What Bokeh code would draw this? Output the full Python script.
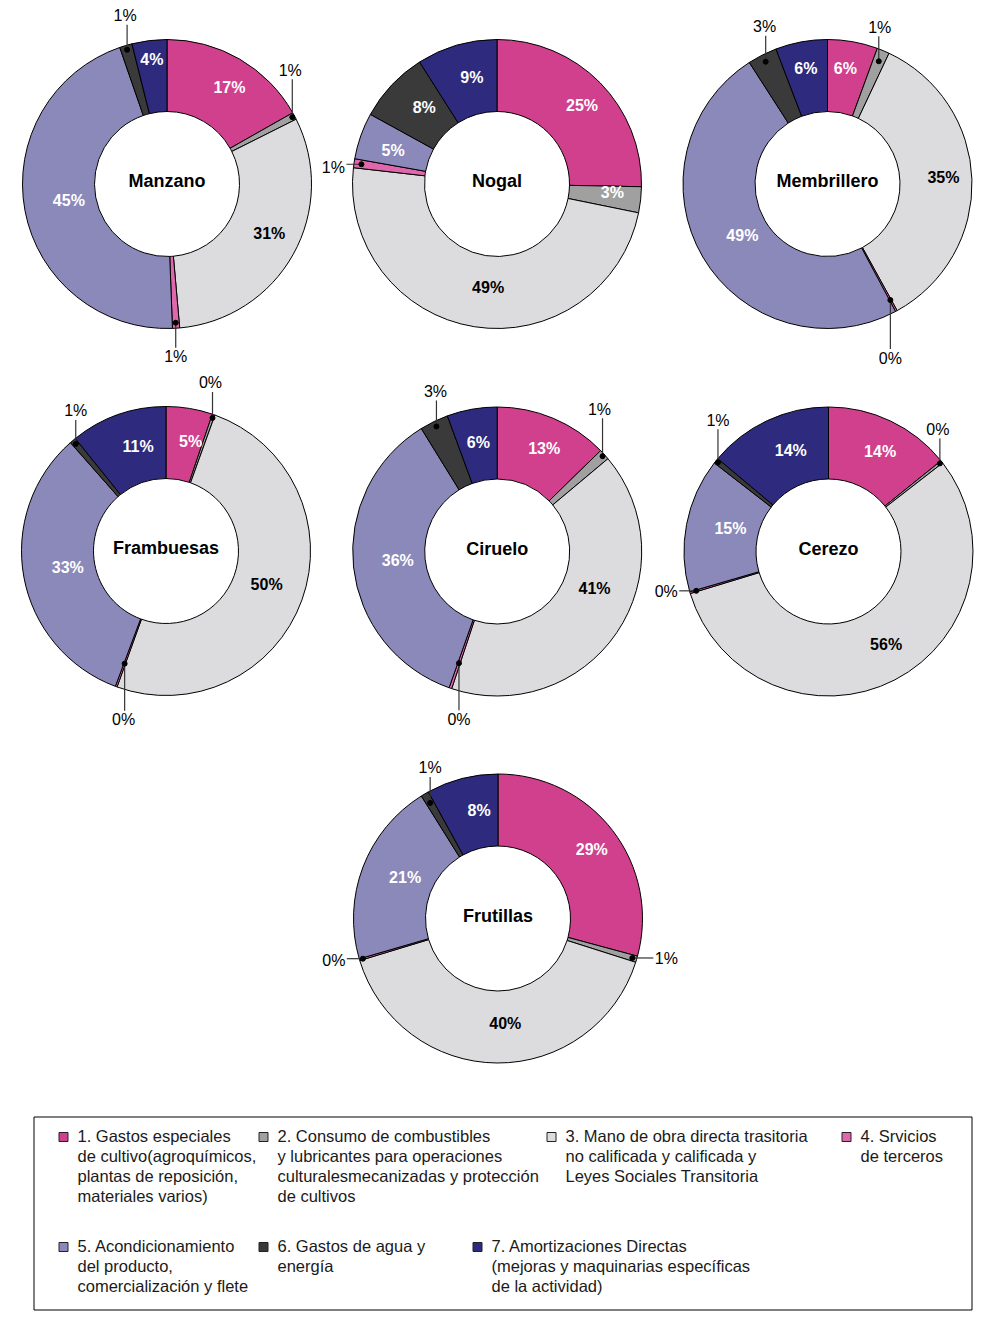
import math
from bokeh.plotting import figure
from bokeh.models import Range1d, ColumnDataSource
from bokeh.embed import file_html
from bokeh.resources import INLINE
from bokeh.core.properties import value

# ---------------- data ----------------
crops = ["Manzano", "Nogal", "Membrillero", "Frambuesas", "Ciruelo", "Cerezo", "Frutillas"]

# shares (%) of the 7 cost items, in legend order (clockwise from 12 o'clock)
manzano = [16.8, 0.8, 31.0, 0.8, 45.3, 1.4, 3.9]
nogal = [25.3, 2.9, 48.6, 1.0, 5.2, 8.0, 9.0]
membrillero = [5.6, 1.4, 35.0, 0.2, 48.7, 3.3, 5.8]
frambuesas = [5.2, 0.3, 50.0, 0.2, 32.8, 0.7, 10.8]
ciruelo = [12.7, 1.2, 41.2, 0.3, 35.8, 3.2, 5.6]
cerezo = [14.2, 0.3, 55.8, 0.2, 15.0, 0.6, 13.9]
frutillas = [29.2, 0.7, 40.4, 0.2, 20.6, 0.9, 8.0]

series = [manzano, nogal, membrillero, frambuesas, ciruelo, cerezo, frutillas]

legend_lines = [
    ["1. Gastos especiales", "de cultivo(agroquímicos,", "plantas de reposición,", "materiales varios)"],
    ["2. Consumo de combustibles", "y lubricantes para operaciones", "culturalesmecanizadas y protección", "de cultivos"],
    ["3. Mano de obra directa trasitoria", "no calificada y calificada y", "Leyes Sociales Transitoria"],
    ["4. Srvicios", "de terceros"],
    ["5. Acondicionamiento", "del producto,", "comercialización y flete"],
    ["6. Gastos de agua y", "energía"],
    ["7. Amortizaciones Directas", "(mejoras y maquinarias específicas", "de la actividad)"],
]

# ---------------- style / layout ----------------
colors = ["#D1408D", "#A0A0A0", "#DCDCDF", "#DF68AC", "#8B89BA", "#3A3A3A", "#2E2A7D"]
label_colors = ["white", "white", "black", "white", "white", "white", "white"]

H = 1341  # page height, image coords -> data coords via H - y
W_FIG, H_FIG = 986, 1320

centers = [(166.5, 183.5), (496.5, 183.5), (827, 183.5),
           (165.5, 550.5), (496.7, 551), (828, 551),
           (497.5, 918)]
R_OUT = 144.5
R_IN = 72.5
R_LAB = 108
R_DOT = 140
LAB_SHIFT = (8, -3)  # general placement shift of inside labels (pixels, y down)

# per-label nudges of inside labels (pixels, y down)
nudges = [
    {6: (-10, -14)},
    {4: (-10, 5), 5: (-2, 0), 6: (-3, 0)},
    {0: (-9, -6), 6: (-10, -6)},
    {2: (-9, 0), 0: (-1, 0)},
    {0: (-3, 0), 2: (0, -21), 6: (-8, 0)},
    {0: (-3, 0)},
    {},
]

# outside labels: index -> (dx, dy, dot radius) ; offset of label from dot in pixels (dy downward)
outside = [
    {1: (-2, -47, 142), 3: (0, 34, 139), 5: (-2, -34, 140)},
    {3: (-28, 3, 137)},
    {1: (1, -34, 133), 3: (0, 58, 132), 5: (-1, -35, 137)},
    {1: (-2, -35, 141), 3: (-1, 56, 120), 5: (0, -33, 140)},
    {1: (-3, -47, 142), 3: (0, 56, 118), 5: (-1, -35, 139)},
    {1: (-2, -34, 142), 3: (-30, 1, 138), 5: (0, -42, 142)},
    {1: (34, 1, 140), 3: (-29, 2, 141), 5: (0, -35, 134)},
]

FONT = value("Liberation Sans")

p = figure(width=W_FIG, height=H_FIG, x_range=Range1d(0, W_FIG), y_range=Range1d(H - H_FIG, H),
           x_axis_type=None, y_axis_type=None, toolbar_location=None, output_backend="svg",
           min_border=0, outline_line_color=None, background_fill_color="white")
p.grid.visible = False

wx, wy, ws, we, wc = [], [], [], [], []
in_x, in_y, in_t, in_c = [], [], [], []
out_x, out_y, out_t = [], [], []
dot_x, dot_y = [], []
seg_xs, seg_ys = [], []
tit_x, tit_y = [], []

for k, vals in enumerate(series):
    cx, cy = centers[k]
    total = sum(vals)
    cum = 0.0
    tit_x.append(cx)
    tit_y.append(H - (cy - 3))
    for i, v in enumerate(vals):
        f0 = cum / total
        f1 = (cum + v) / total
        cum += v
        wx.append(cx)
        wy.append(H - cy)
        ws.append(math.pi / 2 - 2 * math.pi * f0)
        we.append(math.pi / 2 - 2 * math.pi * f1)
        wc.append(colors[i])
        fm = (f0 + f1) / 2
        ang = 2 * math.pi * fm
        sx, sy = math.sin(ang), -math.cos(ang)  # image direction (y down)
        txt = f"{round(v)}%"
        if i in outside[k]:
            dx, dy, rd = outside[k][i]
            px, py = cx + rd * sx, cy + rd * sy
            lx, ly = px + dx, py + dy
            dot_x.append(px)
            dot_y.append(H - py)
            out_x.append(lx)
            out_y.append(H - ly)
            out_t.append(txt)
            if abs(dy) >= abs(dx):
                ey = ly + (9 if dy < 0 else -9)
                seg_xs.append([px, px])
                seg_ys.append([H - py, H - ey])
            else:
                ex = lx + (-13 if dx > 0 else 13)
                seg_xs.append([px, ex])
                seg_ys.append([H - py, H - py])
        else:
            nx, ny = nudges[k].get(i, (0, 0))
            in_x.append(cx + R_LAB * sx + LAB_SHIFT[0] + nx)
            in_y.append(H - (cy + R_LAB * sy + LAB_SHIFT[1] + ny))
            in_t.append(txt)
            in_c.append(label_colors[i])

p.annular_wedge(x="x", y="y", inner_radius=R_IN, outer_radius=R_OUT, start_angle="s", end_angle="e",
                direction="clock", fill_color="c", line_color="black", line_width=1,
                source=ColumnDataSource(dict(x=wx, y=wy, s=ws, e=we, c=wc)))

p.multi_line(xs=seg_xs, ys=seg_ys, line_color="#333333", line_width=1.2)
p.scatter(x=dot_x, y=dot_y, size=5, marker="circle", fill_color="black", line_color="black")

p.text(x="x", y="y", text="t", text_color="c", source=ColumnDataSource(dict(x=in_x, y=in_y, t=in_t, c=in_c)),
       text_font=FONT, text_font_size="16px", text_font_style="bold", text_align="center",
       text_baseline="middle")
p.text(x=out_x, y=out_y, text=out_t, text_color="black", text_font=FONT, text_font_size="16px",
       text_align="center", text_baseline="middle")
p.text(x=tit_x, y=tit_y, text=crops, text_color="black", text_font=FONT, text_font_size="18px",
       text_font_style="bold", text_align="center", text_baseline="middle")

# ---------------- legend box ----------------
p.quad(left=[33.5], right=[971.5], top=[H - 1116.5], bottom=[H - 1309.5], fill_color=None,
       line_color="black", line_width=1)

leg_pos = [(77, 1135), (277, 1135), (565, 1135), (860, 1135),
           (77, 1245), (277, 1245), (491, 1245)]
LINE_H = 20
lt_x, lt_y, lt_t = [], [], []
sq_x, sq_y = [], []
for i, lines in enumerate(legend_lines):
    tx, ty = leg_pos[i]
    sq_x.append(tx - 14)
    sq_y.append(H - (ty + 1.5))
    for j, line in enumerate(lines):
        lt_x.append(tx)
        lt_y.append(H - (ty + j * LINE_H))
        lt_t.append(line)

p.rect(x=sq_x, y=sq_y, width=9, height=9, fill_color=colors, line_color="#222222", line_width=1)
p.text(x=lt_x, y=lt_y, text=lt_t, text_color="#1a1a1a", text_font=FONT, text_font_size="16.5px",
       text_align="left", text_baseline="middle")

open("out.html", "w").write(file_html(p, INLINE))
